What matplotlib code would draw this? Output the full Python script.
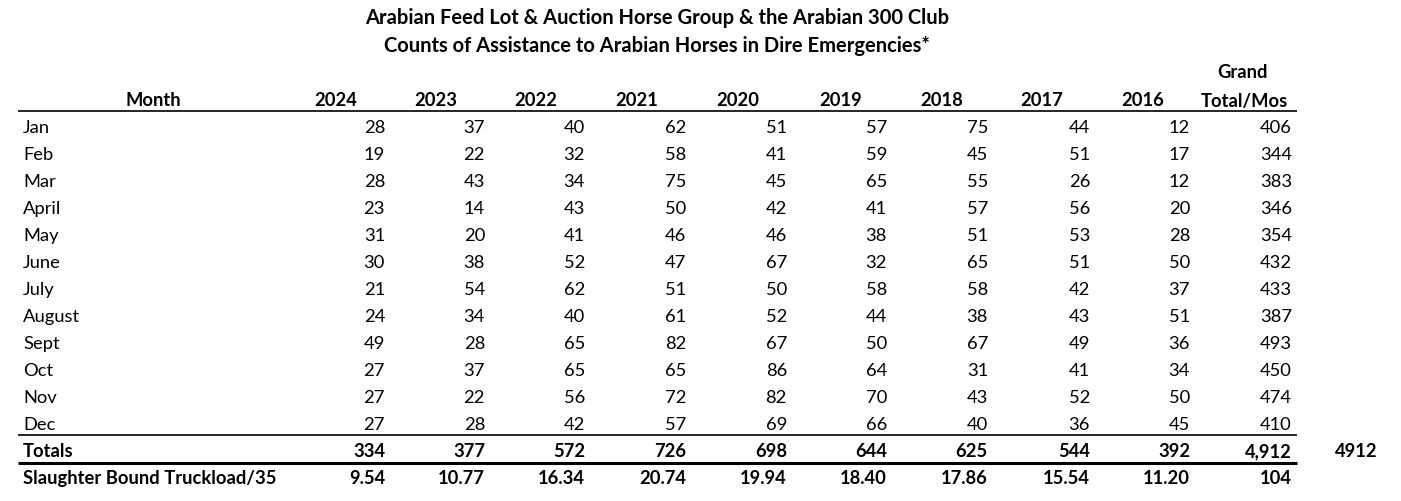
import matplotlib
matplotlib.use("Agg")
import matplotlib.pyplot as plt

# ---- data ----
title_lines = ["Arabian Feed Lot & Auction Horse Group & the Arabian 300 Club",
               "Counts of Assistance to Arabian Horses in Dire Emergencies*"]
months = ["Jan", "Feb", "Mar", "April", "May", "June", "July", "August",
          "Sept", "Oct", "Nov", "Dec"]
years = ["2024", "2023", "2022", "2021", "2020", "2019", "2018", "2017", "2016"]
y2024 = [28, 19, 28, 23, 31, 30, 21, 24, 49, 27, 27, 27]
y2023 = [37, 22, 43, 14, 20, 38, 54, 34, 28, 37, 22, 28]
y2022 = [40, 32, 34, 43, 41, 52, 62, 40, 65, 65, 56, 42]
y2021 = [62, 58, 75, 50, 46, 47, 51, 61, 82, 65, 72, 57]
y2020 = [51, 41, 45, 42, 46, 67, 50, 52, 67, 86, 82, 69]
y2019 = [57, 59, 65, 41, 38, 32, 58, 44, 50, 64, 70, 66]
y2018 = [75, 45, 55, 57, 51, 65, 58, 38, 67, 31, 43, 40]
y2017 = [44, 51, 26, 56, 53, 51, 42, 43, 49, 41, 52, 36]
y2016 = [12, 17, 12, 20, 28, 50, 37, 51, 36, 34, 50, 45]
grand_total_mos = [406, 344, 383, 346, 354, 432, 433, 387, 493, 450, 474, 410]
totals = ["334", "377", "572", "726", "698", "644", "625", "544", "392", "4,912"]
truckloads = ["9.54", "10.77", "16.34", "20.74", "19.94", "18.40", "17.86",
              "15.54", "11.20", "104"]
side_total = "4912"

columns = [y2024, y2023, y2022, y2021, y2020, y2019, y2018, y2017, y2016,
           grand_total_mos]

# ---- layout ----
W, H = 1401, 502
fig = plt.figure(figsize=(W / 100, H / 100), dpi=100)
ax = fig.add_axes([0, 0, 1, 1])
ax.set_xlim(0, W)
ax.set_ylim(H, 0)
ax.axis("off")

FONT = "Lato"
fs = 13.2
tfs = 14.5
col_right = [385, 485, 585, 686, 787, 887, 988, 1090, 1190, 1292]
head_right = [357, 457, 557, 658, 759, 862, 963, 1063, 1164, 1288]
row0, dy = 127, 27
off = 6.5  # baseline offset below row centre

def put(x, y, s, ha, bold=False, size=fs):
    ax.text(x, y + off, s, ha=ha, va="baseline", fontsize=size,
            fontweight="bold" if bold else "normal", family=FONT)

put(657, 18, title_lines[0], "center", True, tfs)
put(657, 46, title_lines[1], "center", True, tfs)

put(153, 100, "Month", "center", True)
for x, yr in zip(head_right, years):
    put(x, 100, yr, "right", True)
put(1243, 72, "Grand", "center", True)
put(head_right[-1], 100, "Total/Mos", "right", True)

for i, m in enumerate(months):
    y = row0 + i * dy
    put(23, y, m, "left")
    for x, col in zip(col_right, columns):
        put(x, y, str(col[i]), "right")

y_tot = row0 + 12 * dy
put(23, y_tot, "Totals", "left", True)
for x, t in zip(col_right, totals):
    put(x, y_tot, t, "right", True)
put(1378, y_tot, side_total, "right", True)

y_tr = row0 + 13 * dy
put(23, y_tr, "Slaughter Bound Truckload/35", "left", True)
for x, t in zip(col_right, truckloads):
    put(x, y_tr, t, "right", True)

ax.plot([18, 1297], [112, 112], color="black", lw=1.2, solid_capstyle="butt")
ax.plot([18, 1297], [436, 436], color="black", lw=1.2, solid_capstyle="butt")
ax.plot([18, 1297], [463.5, 463.5], color="black", lw=2.2, solid_capstyle="butt")

fig.savefig("out.png", dpi=100, facecolor="white")
